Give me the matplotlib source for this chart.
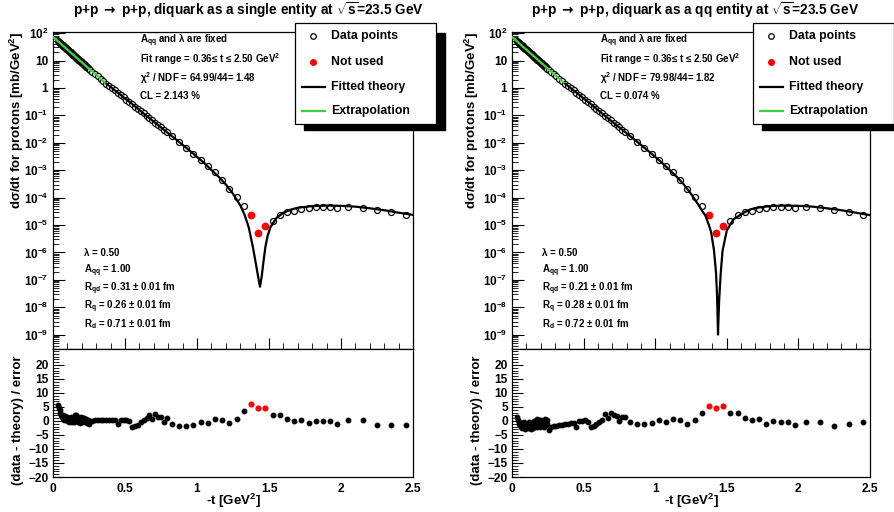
import numpy as np
import matplotlib
matplotlib.use("Agg")
import matplotlib.pyplot as plt
from matplotlib.lines import Line2D
from matplotlib.patches import Rectangle
from matplotlib.ticker import FixedLocator, FuncFormatter, MultipleLocator, NullFormatter

plt.rcParams['font.family'] = ['Liberation Sans', 'DejaVu Sans']
plt.rcParams['font.weight'] = 'bold'
plt.rcParams['mathtext.fontset'] = 'custom'
plt.rcParams['mathtext.rm'] = 'Liberation Sans:bold'
plt.rcParams['mathtext.it'] = 'Liberation Sans:bold'
plt.rcParams['mathtext.bf'] = 'Liberation Sans:bold'
plt.rcParams['mathtext.sf'] = 'DejaVu Sans:bold'

# ---------------- data (shared by both panels) ----------------
t_data = [0.037, 0.042, 0.047, 0.052, 0.057, 0.062, 0.067, 0.072, 0.077, 0.082,
          0.087, 0.092, 0.097, 0.102, 0.107, 0.112, 0.117, 0.122, 0.127, 0.132,
          0.137, 0.142, 0.147, 0.152, 0.157, 0.162, 0.167, 0.172, 0.177, 0.182,
          0.187, 0.192, 0.197, 0.202, 0.207, 0.212, 0.217, 0.222, 0.227, 0.232,
          0.237, 0.242, 0.247, 0.255,
          0.27, 0.29, 0.31, 0.33, 0.35, 0.37, 0.39, 0.41, 0.43,
          0.45, 0.47, 0.49, 0.51, 0.53, 0.55, 0.57, 0.59, 0.61, 0.63, 0.65, 0.67,
          0.69, 0.71, 0.73, 0.75, 0.77, 0.79,
          0.825, 0.875, 0.925, 0.975, 1.025, 1.075, 1.125, 1.175, 1.225, 1.275, 1.325,
          1.525, 1.575, 1.625, 1.675, 1.725, 1.775, 1.825, 1.875, 1.925, 1.975,
          2.05, 2.15, 2.25, 2.35, 2.45]
log10_dsdt = [1.696, 1.673, 1.649, 1.626, 1.602, 1.579, 1.555, 1.532, 1.508, 1.485,
              1.461, 1.438, 1.414, 1.391, 1.367, 1.344, 1.320, 1.297, 1.273, 1.250,
              1.226, 1.203, 1.179, 1.156, 1.132, 1.109, 1.085, 1.062, 1.038, 1.015,
              0.991, 0.968, 0.944, 0.921, 0.897, 0.874, 0.850, 0.827, 0.803, 0.780,
              0.756, 0.733, 0.709, 0.671,
              0.60, 0.51, 0.42, 0.33, 0.24, 0.16, 0.08, -0.01, -0.09,
              -0.18, -0.26, -0.34, -0.43, -0.51, -0.60, -0.68, -0.76, -0.85, -0.93, -1.01, -1.10,
              -1.18, -1.27, -1.36, -1.44, -1.52, -1.60,
              -1.75, -1.98, -2.19, -2.40, -2.62, -2.85, -3.08, -3.36, -3.69, -3.99, -4.30,
              -4.86, -4.63, -4.54, -4.49, -4.41, -4.39, -4.35, -4.34, -4.33, -4.37,
              -4.34, -4.37, -4.47, -4.53, -4.62]
t_notused = [1.375, 1.425, 1.475]
log10_notused = [-4.62, -5.30, -5.03]

# residuals (data - theory)/error
resid_single = [5.7, 4.5, 3.8, 3.0, 2.2, 1.5, 2.0, 1.0, 0.5, 1.8,
                0.8, 0.3, 1.5, 0.0, 1.2, -0.3, 0.8, 1.6, 0.2, -0.5,
                1.0, 0.4, -0.2, 2.0, 1.0, 2.2, 0.5, -0.4, 1.3, 0.8,
                -0.6, 1.5, 0.2, -0.3, 1.0, 0.0, 1.2, -0.5, 0.6, 0.3,
                -0.8, 0.2, -1.2, 0.0,
                0.0, 0.2, 0.3, 0.2, 0.4, 0.3, 0.4, 0.5, 0.3,
                -1.0, 0.5, 0.3, 0.4, 0.1, -2.0, -1.9, -1.3, -0.3, 0.4, 1.0, 2.1,
                0.6, 2.4, 1.6, 1.4, -0.4, 1.2,
                -1.1, -1.8, -1.7, -1.4, -0.2, -0.8, 0.6, 0.4, -0.8, 0.7, 3.5,
                2.0, 2.1, 0.8, -0.1, 0.5, -0.8, 0.1, -0.1, -0.1, -1.0,
                0.4, 0.4, -1.4, -1.4, -1.4]
resid_single_notused = [6.0, 4.8, 4.8]

resid_qq = [1.5, 0.5, -0.5, -1.0, -1.5, -2.0, -0.8, -2.5, -1.2, -2.2,
            -0.5, -2.8, -1.5, -2.0, -1.0, -2.6, -1.8, -0.3, -2.0, -3.0,
            -1.2, -0.6, -2.4, -1.0, 0.0, -1.8, -0.5, -2.2, 0.8, -1.2,
            0.3, -0.8, -2.0, 0.5, -1.5, 0.0, -1.0, -2.0, 0.6, -0.5,
            -1.6, 0.2, -1.0, -3.2,
            -2.3, -1.8, -1.7, -1.5, -1.4, -1.2, -1.0, -0.8, -0.6,
            -2.0, 0.0, 0.1, 0.2, -0.2, -2.0, -1.8, -1.0, -0.2, 0.5, 2.5, 1.2,
            3.0, 2.0, 1.8, 0.0, 1.6, 1.6,
            -0.5, -1.2, -1.1, -0.8, 0.2, -0.5, 0.7, 0.4, -0.9, 0.4, 2.9,
            2.9, 2.9, 1.2, 0.4, 0.6, -0.9, 0.0, -0.5, -0.5, -1.6,
            -0.3, -0.3, -1.7, -1.2, -0.5]
resid_qq_notused = [5.3, 4.5, 5.3]

# fitted theory curves (log10 of dsigma/dt)
t_th_single = [0.36, 0.45, 0.55, 0.65, 0.75, 0.85, 0.95, 1.05, 1.15, 1.20, 1.25, 1.30,
               1.33, 1.36, 1.39, 1.41, 1.425, 1.4375, 1.45, 1.46, 1.475, 1.49, 1.51,
               1.55, 1.60, 1.65, 1.70, 1.80, 1.90, 2.00, 2.10, 2.20, 2.30, 2.40, 2.50]
log_th_single = [0.20, -0.17, -0.59, -1.02, -1.44, -1.86, -2.29, -2.74, -3.24, -3.52, -3.86, -4.28,
                 -4.62, -5.10, -5.85, -6.45, -6.90, -7.25, -6.85, -6.40, -5.80, -5.40, -5.08,
                 -4.75, -4.55, -4.44, -4.37, -4.31, -4.29, -4.30, -4.33, -4.39, -4.46, -4.55, -4.63]
t_th_qq = [0.36, 0.45, 0.55, 0.65, 0.75, 0.85, 0.95, 1.05, 1.15, 1.20, 1.25, 1.30,
           1.33, 1.35, 1.375, 1.39, 1.41, 1.425, 1.432, 1.436, 1.4386, 1.442, 1.447, 1.457,
           1.47, 1.50, 1.545, 1.615, 1.66, 1.70, 1.80, 1.90, 2.00, 2.10, 2.20, 2.30, 2.40, 2.50]
log_th_qq = [0.20, -0.17, -0.59, -1.02, -1.44, -1.86, -2.29, -2.74, -3.24, -3.52, -3.86, -4.25,
             -4.50, -4.65, -5.00, -5.25, -5.90, -6.75, -7.60, -8.40, -9.00, -8.40, -7.70, -6.80,
             -5.95, -5.20, -4.80, -4.56, -4.44, -4.38, -4.31, -4.29, -4.30, -4.33, -4.39, -4.46, -4.55, -4.64]
t_extrap = [0.0, 0.36]
log_extrap = [1.86, 0.20]

titles = ["p+p $\\mathsf{\\rightarrow}$ p+p, diquark as a single entity at $\\sqrt{s}$=23.5 GeV",
          "p+p $\\mathsf{\\rightarrow}$ p+p, diquark as a qq entity at $\\sqrt{s}$=23.5 GeV"]
fit_info = [["A$_{qq}$ and λ are fixed", "Fit range = 0.36≤ t ≤ 2.50 GeV$^{2}$",
             "χ$^{2}$ / NDF = 64.99/44= 1.48", "CL = 2.143 %"],
            ["A$_{qq}$ and λ are fixed", "Fit range = 0.36≤ t ≤ 2.50 GeV$^{2}$",
             "χ$^{2}$ / NDF = 79.98/44= 1.82", "CL = 0.074 %"]]
par_info = [["λ = 0.50", "A$_{qq}$ = 1.00", "R$_{qd}$ = 0.31 ± 0.01 fm",
             "R$_{q}$ = 0.26 ± 0.01 fm", "R$_{d}$ = 0.71 ± 0.01 fm"],
            ["λ = 0.50", "A$_{qq}$ = 1.00", "R$_{qd}$ = 0.21 ± 0.01 fm",
             "R$_{q}$ = 0.28 ± 0.01 fm", "R$_{d}$ = 0.72 ± 0.01 fm"]]
legend_labels = ["Data points", "Not used", "Fitted theory", "Extrapolation"]

GREEN = '#3fcf3f'
W, H = 894, 512
fig = plt.figure(figsize=(W / 100, H / 100), dpi=100)


def fx(px):
    return px / W


def fy(py):
    return 1 - py / H


def logfmt(v, pos):
    k = int(round(np.log10(v)))
    if k == 0:
        return "1"
    if k == 1:
        return "10"
    return r"$10^{%d}$" % k


panels = [
    dict(x0=53, x1=413, th_t=t_th_single, th_l=log_th_single, res=resid_single,
         res_nu=resid_single_notused, title_x=248, info_x=140, par_x=84,
         leg_x=295, ylab_up=-0.075, ylab_lo=-0.08),
    dict(x0=512, x1=870, th_t=t_th_qq, th_l=log_th_qq, res=resid_qq,
         res_nu=resid_qq_notused, title_x=695, info_x=600, par_x=542,
         leg_x=753, ylab_up=-0.086, ylab_lo=-0.08),
]

y_top, y_mid, y_bot = 32, 349, 477
dsdt = 10 ** np.array(log10_dsdt)
dsdt_nu = 10 ** np.array(log10_notused)

for i, p in enumerate(panels):
    axu = fig.add_axes([fx(p['x0']), fy(y_mid), (p['x1'] - p['x0']) / W, (y_mid - y_top) / H])
    axl = fig.add_axes([fx(p['x0']), fy(y_bot), (p['x1'] - p['x0']) / W, (y_bot - y_mid) / H])

    # upper panel
    axu.plot(t_data, dsdt, 'o', ms=4.3, mfc='white', mec='black', mew=0.9, zorder=3)
    axu.plot(t_notused, dsdt_nu, 'o', ms=4.6, mfc='red', mec='red', zorder=3)
    axu.plot(p['th_t'], 10 ** np.array(p['th_l']), '-', color='black', lw=1.6, zorder=4)
    axu.plot(t_extrap, 10 ** np.array(log_extrap), '-', color=GREEN, lw=1.6, zorder=5)
    axu.set_yscale('log')
    axu.set_xlim(0, 2.5)
    axu.set_ylim(3e-10, 1.1e2)
    axu.yaxis.set_major_locator(FixedLocator([10.0 ** k for k in range(-9, 3)]))
    axu.yaxis.set_major_formatter(FuncFormatter(logfmt))
    minors = [m * 10.0 ** k for k in range(-10, 3) for m in range(2, 10)]
    axu.yaxis.set_minor_locator(FixedLocator(minors))
    axu.yaxis.set_minor_formatter(NullFormatter())
    axu.xaxis.set_major_locator(MultipleLocator(0.5))
    axu.xaxis.set_minor_locator(MultipleLocator(0.1))
    axu.tick_params(axis='both', which='both', direction='in', top=False, right=False)
    axu.tick_params(axis='y', which='major', length=8.5, width=0.8, labelsize=8.5, pad=3.5)
    axu.tick_params(axis='y', which='minor', length=4.3, width=0.6)
    axu.tick_params(axis='x', which='major', length=8, width=0.8, labelbottom=False)
    axu.tick_params(axis='x', which='minor', length=4.3, width=0.6)
    axu.set_ylabel("dσ/dt for protons [mb/GeV$^{2}$]", loc='top', fontsize=9.5, fontweight='bold')
    axu.yaxis.set_label_coords(p['ylab_up'], 1.0)

    # lower panel
    axl.plot(t_data, p['res'], 'o', ms=3.2, color='black', zorder=3)
    axl.plot(t_notused, p['res_nu'], 'o', ms=3.4, color='red', zorder=3)
    axl.set_xlim(0, 2.5)
    axl.set_ylim(-20, 25.7)
    axl.yaxis.set_major_locator(FixedLocator([-20, -15, -10, -5, 0, 5, 10, 15, 20]))
    axl.yaxis.set_minor_locator(MultipleLocator(1))
    axl.xaxis.set_major_locator(FixedLocator([0, 0.5, 1, 1.5, 2, 2.5]))
    axl.xaxis.set_major_formatter(FuncFormatter(lambda v, pos: "%g" % v))
    axl.tick_params(axis='both', which='both', direction='in', top=False, right=False)
    axl.tick_params(axis='y', which='major', length=8, width=0.8, labelsize=8.6, pad=3)
    axl.tick_params(axis='y', which='minor', length=4.3, width=0.6)
    axl.tick_params(axis='x', which='major', length=0, labelsize=8.6, pad=4)
    axl.set_ylabel("(data - theory) / error", fontsize=9.5, fontweight='bold')
    axl.yaxis.set_label_coords(p['ylab_lo'], 0.44)
    axl.set_xlabel("-t [GeV$^{2}$]", fontsize=9.5, fontweight='bold', labelpad=-2)

    for ax in (axu, axl):
        for s in ax.spines.values():
            s.set_linewidth(0.9)

    # title
    fig.text(fx(p['title_x']), fy(10), titles[i], ha='center', va='center',
             fontsize=9.8, fontweight='bold')

    # fit info
    for j, s in enumerate(fit_info[i]):
        fig.text(fx(p['info_x']), fy(41 + j * 18.3), s, ha='left', va='center',
                 fontsize=7.0, fontweight='bold')
    for j, s in enumerate(par_info[i]):
        fig.text(fx(p['par_x']), fy(253 + j * 17.8), s, ha='left', va='center',
                 fontsize=7.0, fontweight='bold')

    # legend box (ROOT style with black shadow)
    lx = p['leg_x']
    fig.add_artist(Rectangle((fx(lx + 9), fy(129.5)), 141 / W, (129.5 - 33) / H,
                             transform=fig.transFigure, facecolor='black', edgecolor='black', zorder=10))
    fig.add_artist(Rectangle((fx(lx), fy(124)), 141 / W, (124 - 23) / H,
                             transform=fig.transFigure, facecolor='white', edgecolor='black',
                             lw=0.9, zorder=11))
    ys = [36, 62, 87, 111]
    mx = lx + 18
    fig.add_artist(Line2D([fx(mx)], [fy(ys[0])], marker='o', ms=4.0, mfc='white', mec='black',
                          mew=0.9, transform=fig.transFigure, zorder=12))
    fig.add_artist(Line2D([fx(mx)], [fy(ys[1])], marker='o', ms=4.0, mfc='red', mec='red',
                          transform=fig.transFigure, zorder=12))
    fig.add_artist(Line2D([fx(lx + 7), fx(lx + 30)], [fy(ys[2])] * 2, color='black', lw=1.6,
                          transform=fig.transFigure, zorder=12))
    fig.add_artist(Line2D([fx(lx + 7), fx(lx + 30)], [fy(ys[3])] * 2, color=GREEN, lw=1.6,
                          transform=fig.transFigure, zorder=12))
    for y, lab in zip(ys, legend_labels):
        fig.text(fx(lx + 36), fy(y), lab, ha='left', va='center', fontsize=8.8,
                 fontweight='bold', zorder=13)

fig.savefig("out.png", dpi=100)
